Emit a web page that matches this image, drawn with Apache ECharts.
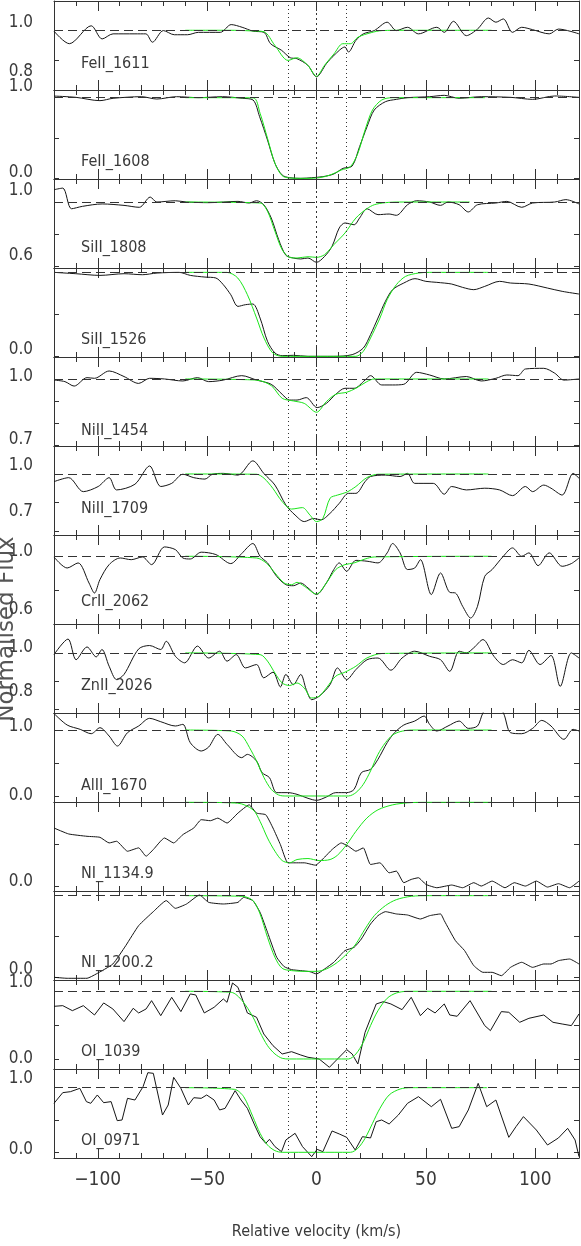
<!DOCTYPE html>
<html>
<head>
<meta charset="utf-8">
<script src="https://cdn.jsdelivr.net/npm/echarts@6/dist/echarts.min.js"></script>
<style>
html, body { margin: 0; padding: 0; background: #fff; }
#chart { width: 581px; height: 1246px; }
</style>
</head>
<body>
<div id="chart"></div>
<script>
// observed spectra [velocity km/s, normalised flux]
const feii1611 = [[-120,0.997],[-113,0.955],[-103,1.015],[-98,0.971],[-93,0.988],[-83,0.988],[-78,0.988],[-75,0.960],[-70,0.999],[-65,0.985],[-59,0.985],[-54,0.993],[-44,0.993],[-39,1.019],[-34,1.010],[-29,0.997],[-24,0.993],[-21,0.955],[-16,0.933],[-12,0.908],[-9,0.905],[-4,0.883],[0,0.844],[4.5,0.888],[8,0.916],[13,0.944],[14.6,0.927],[18,0.966],[21.4,0.988],[26.4,0.999],[32.3,1.027],[36.5,0.999],[41.6,1.010],[46.6,0.988],[55,1.010],[58.4,0.993],[62.6,1.030],[68.5,0.982],[73.6,1.004],[78.6,1.041],[82,1.027],[85.4,1.038],[89.6,0.993],[93.8,1.010],[98.8,1.002],[106.4,0.988],[110.6,1.004],[120,0.988]]
const feii1608 = [[-120,1.02],[-110,1.004],[-99,0.963],[-93,0.992],[-80,1.012],[-73,0.983],[-64,1.012],[-54,1.0],[-43,1.012],[-34,0.992],[-29,0.971],[-26,0.764],[-22.4,0.475],[-19,0.186],[-15.7,0.041],[-12.3,0.008],[-7.2,0],[-2.2,0.008],[2.9,0.021],[7.9,0.054],[12.1,0.124],[16.3,0.153],[19.7,0.393],[23.1,0.64],[26.4,0.847],[31.5,0.95],[36.5,0.979],[41.6,1.0],[51.7,1.012],[58.4,1.029],[65.2,0.992],[75.3,1.012],[88.7,1.004],[98.8,0.979],[108.9,1.021],[120,1.004]]
const siii1808 = [[-120,1.077],[-116,1.087],[-112,0.958],[-107,0.973],[-98,0.988],[-88,0.979],[-81,0.967],[-76,1.031],[-73,1.0],[-64.5,1.008],[-59.4,1.0],[-49.3,0.996],[-35.9,1.004],[-30.8,0.994],[-27.4,1.008],[-24.1,0.983],[-20.7,0.9],[-17.3,0.765],[-14,0.667],[-10.6,0.65],[-7.2,0.644],[-3.9,0.65],[0,0.623],[3.7,0.66],[7.1,0.723],[10.4,0.838],[13,0.869],[17.2,0.858],[19.7,0.9],[23.1,0.958],[28.1,0.921],[33.2,0.925],[36.5,0.917],[41.6,0.983],[45.8,1.008],[51.7,1.0],[56.7,0.979],[60.1,1.0],[65.2,0.983],[69.4,0.938],[73.6,0.983],[82,0.994],[87,1.004],[93.8,0.967],[98.8,0.994],[108.9,1.0],[114,1.015],[120,0.988]]
const siii1526 = [[-120,1.0],[-110,0.984],[-99,0.964],[-88,0.984],[-79.6,0.972],[-72.9,0.992],[-62.8,1.0],[-57.7,0.964],[-51,0.944],[-46,0.933],[-42.6,0.853],[-39.2,0.734],[-35.9,0.595],[-32.5,0.615],[-29.1,0.623],[-25.8,0.456],[-22.4,0.179],[-19,0.04],[-15.7,0.008],[-10.6,0.012],[-3.9,0],[7.9,0],[16.3,0.02],[21.4,0.099],[24.7,0.258],[28.1,0.456],[31.5,0.655],[34.8,0.794],[39.9,0.873],[45,0.925],[50,0.893],[55,0.881],[61.8,0.861],[66.8,0.821],[71.9,0.794],[76.9,0.833],[83.7,0.893],[88.7,0.873],[97.1,0.861],[105.6,0.813],[112.3,0.774],[120,0.742]]
const niii1454 = [[-120,0.995],[-115,0.988],[-110.8,0.968],[-104.9,1.006],[-101.5,1.003],[-94.8,1.036],[-88,1.011],[-81.3,0.98],[-76.3,1.003],[-69.5,1.0],[-61.1,0.991],[-54.4,1.006],[-49.3,0.988],[-42.6,0.995],[-34.2,1.015],[-27.4,0.995],[-20.7,0.976],[-15.7,0.931],[-12.3,0.905],[-8.9,0.905],[-4.7,0.916],[0.3,0.871],[4.5,0.89],[8.8,0.931],[13,0.958],[17.2,0.958],[22.2,0.995],[24.7,1.015],[29.8,0.973],[34.8,0.973],[39.9,0.976],[45.8,1.03],[51.7,1.018],[58.4,1.0],[68.5,1.011],[75.3,0.991],[82,1.003],[87,1.018],[92.1,1.015],[95.5,1.045],[103.9,1.048],[108.9,1.026],[113.1,0.995],[120,1.0]]
const niii1709 = [[-120,0.973],[-113.3,0.987],[-106.6,0.938],[-99.8,0.956],[-94.8,0.987],[-91.4,0.944],[-83,0.964],[-76.3,1.028],[-71.2,0.956],[-66.2,0.967],[-61.1,0.999],[-56.1,0.987],[-51,0.982],[-47.6,0.999],[-42.6,1.002],[-35.9,0.996],[-29.1,1.046],[-24.1,1.002],[-19,0.961],[-14,0.891],[-9.8,0.856],[-5.6,0.833],[-1.3,0.844],[2,0.839],[6.2,0.862],[10.4,0.897],[14.6,0.932],[18,0.932],[22.2,0.973],[24.7,0.991],[31.5,0.996],[38.2,0.991],[41.6,1.002],[44.9,0.967],[53.4,0.967],[58.4,0.929],[61.8,0.956],[68.5,0.944],[76.9,0.95],[83.7,0.944],[89.6,0.924],[95.5,0.956],[98.8,0.938],[103.9,0.961],[107.2,0.95],[112.3,0.926],[117.3,1.002],[120,0.985]]
const crii2062 = [[-120,0.996],[-114,0.931],[-109,0.961],[-104,0.843],[-101.5,0.784],[-99,0.863],[-94.8,0.951],[-89.7,0.99],[-84.7,0.98],[-79.6,0.996],[-75.4,0.951],[-69.5,1.055],[-64.5,1.039],[-61.1,0.99],[-57.7,0.984],[-52.7,1.024],[-46,1.01],[-39.2,0.957],[-34.2,1.016],[-29.1,1.075],[-25.8,1.0],[-22.4,0.961],[-18.2,0.882],[-14,0.833],[-10.6,0.827],[-7.2,0.843],[-3.9,0.814],[0,0.775],[4.5,0.843],[7.9,0.922],[10.4,0.961],[13.8,0.912],[18,0.976],[23.1,0.971],[28.1,0.961],[32.3,1.02],[34.8,1.075],[38.2,1.02],[41.6,0.922],[44.9,0.931],[47.5,0.98],[52.5,0.775],[56.7,0.902],[60.9,0.788],[63.5,0.784],[66.8,0.706],[70.5,0.637],[73.6,0.706],[76.9,0.882],[80.3,0.922],[85.4,1.0],[89.6,1.049],[93.8,1.0],[97.1,1.02],[101.3,0.945],[106.4,1.02],[112.3,0.941],[116.5,0.957],[120,0.99]]
const znii2026 = [[-120,0.994],[-113.6,1.049],[-109.9,0.976],[-104.9,1.021],[-100.7,0.986],[-98.1,1.012],[-94.8,0.953],[-91.4,0.906],[-88,0.924],[-81.3,1.014],[-76.3,1.026],[-71.2,1.012],[-68.7,1.041],[-64.5,0.988],[-60.3,0.965],[-54.4,1.024],[-49.3,0.982],[-44.3,1.006],[-40.9,0.971],[-36.7,0.994],[-32.5,0.947],[-27.4,0.959],[-24.1,0.912],[-19.9,0.932],[-16.5,0.88],[-14,0.924],[-10.6,0.888],[-7.2,0.924],[-4.7,0.871],[-2.2,0.835],[1.2,0.847],[6.2,0.888],[9.6,0.947],[13.8,0.906],[18,0.941],[23.1,0.976],[28.1,0.982],[34,0.939],[39.1,0.982],[44.9,1.006],[51.7,0.988],[56.7,0.976],[60.9,0.935],[65.2,1.006],[68.5,1.0],[71.9,1.018],[76.1,1.047],[81.1,0.988],[85.4,0.959],[89.6,0.976],[93.8,0.965],[97.1,1.009],[102.2,0.959],[107.2,0.991],[111.4,0.882],[116.5,1.0],[120,0.982]]
const alii1670 = [[-120,1.25],[-114,1.076],[-108,1.01],[-103,0.944],[-99,1.035],[-94.8,0.909],[-91,0.758],[-86.4,0.96],[-81.3,1.061],[-76.3,1.177],[-71.2,1.126],[-64.5,1.061],[-61.1,1.086],[-57.7,0.808],[-52.7,0.682],[-49.3,0.742],[-45.1,0.934],[-40.9,0.783],[-34.2,0.581],[-31.6,0.631],[-27.4,0.53],[-24.9,0.354],[-21.5,0.278],[-18.2,0.051],[-13.1,0.051],[-8.9,0.025],[-3.9,-0.035],[0,-0.066],[4.5,-0.015],[8.8,0.051],[13.8,0.051],[17.2,0.101],[20.5,0.354],[24.7,0.404],[28.1,0.556],[32.3,0.808],[35.7,0.96],[39.9,1.076],[44.9,1.136],[49.2,1.212],[51.7,1.086],[55,0.985],[60.1,1.061],[65.2,1.136],[69.4,1.025],[73.6,1.061],[76.1,1.26],[80.5,1.45],[85.4,1.26],[88.7,0.96],[93.8,0.944],[98.8,1.025],[103,1.146],[107.2,1.061],[113.1,0.859],[117.3,1.01],[120,0.985]]
const ni1134 = [[-120,0.692],[-113.3,0.621],[-104.9,0.593],[-99,0.581],[-94.8,0.514],[-91.4,0.534],[-86.4,0.415],[-81.3,0.455],[-77.9,0.356],[-74.6,0.435],[-69.5,0.573],[-65.3,0.514],[-61.1,0.613],[-56.1,0.692],[-52.7,0.791],[-48.5,0.779],[-45.1,0.81],[-40.9,0.751],[-35.9,0.87],[-30.8,0.968],[-27.4,0.87],[-23.2,0.85],[-19.9,0.692],[-16.5,0.494],[-13.1,0.277],[-8.9,0.277],[-5.6,0.277],[-0.5,0.249],[3.7,0.344],[7.1,0.435],[11.3,0.514],[14.6,0.474],[18,0.415],[21.4,0.455],[24.7,0.257],[29,0.277],[33.2,0.158],[36.5,0.178],[39.9,0.04],[43.3,0.079],[46.6,0.099],[50,0.02],[55,-0.02],[61.8,0.012],[66.8,-0.02],[71.9,0.04],[75.3,0],[80.3,0.059],[86.2,-0.02],[90.4,0.04],[95.5,0],[100.5,0.059],[105.6,-0.012],[110.6,0.028],[115.7,-0.02],[120,0.059]]
const ni1200 = [[-120,0],[-114,-0.012],[-104.9,-0.012],[-100.7,0.041],[-93.1,0.163],[-87.2,0.388],[-81.3,0.633],[-74.6,0.804],[-68.7,0.939],[-64.5,0.845],[-59.4,0.898],[-53.5,1.008],[-49.3,0.918],[-42.6,0.898],[-35.9,0.918],[-33.3,0.98],[-29.1,0.939],[-25.8,0.796],[-22.4,0.551],[-18.2,0.245],[-14.8,0.131],[-11.4,0.094],[-7.2,0.082],[-3,0.069],[0,0.041],[3.7,0.102],[7.9,0.184],[13,0.327],[17.2,0.367],[20.5,0.469],[24.7,0.653],[28.1,0.755],[31.5,0.804],[36.5,0.776],[41.6,0.763],[47.5,0.714],[51.7,0.755],[56.7,0.776],[58.4,0.694],[63.5,0.449],[67.7,0.327],[71.9,0.143],[76.1,0.061],[80.3,0.061],[84.5,0.02],[88.7,0.122],[93.8,0.184],[98.8,0.122],[103.9,0.163],[107.2,0.163],[110.6,0.204],[115.7,0.224],[120,0.163]]
const oi1039 = [[-120,0.778],[-116,0.788],[-111.6,0.714],[-106.6,0.788],[-101.5,0.65],[-97.3,0.828],[-93.1,0.739],[-88,0.552],[-83.8,0.749],[-81.3,0.68],[-77.9,0.739],[-75.4,0.862],[-71.2,0.64],[-66.2,0.911],[-62,0.7],[-57.7,0.961],[-55.2,0.946],[-51.3,0.68],[-46.8,0.764],[-42.6,0.887],[-40.9,0.837],[-38.4,1.123],[-35.9,1.059],[-31.6,0.68],[-27.4,0.616],[-24.1,0.369],[-19.9,0.197],[-15.7,0.074],[-11.4,0.108],[-7.2,0.059],[-3.9,0.025],[1.2,0],[5.9,-0.123],[9.6,0],[13.8,0.138],[16.3,0.074],[18.9,-0.074],[22.2,0.394],[27.3,0.813],[30.6,0.847],[34,0.813],[39.1,0.729],[43.3,0.911],[47.5,0.64],[50.8,0.749],[54.2,0.68],[58.4,0.813],[60.9,0.65],[64.3,0.631],[70.2,0.862],[76.9,0.493],[79.5,0.419],[84.5,0.7],[87.9,0.69],[92.9,0.542],[97.1,0.601],[103.9,0.65],[108.1,0.542],[112.3,0.517],[116.5,0.493],[120,0.665]]
const oi0971 = [[-120,0.758],[-116,0.923],[-112.5,0.938],[-108.2,0.99],[-105.2,0.784],[-103.2,0.758],[-100.2,0.887],[-97.3,0.768],[-93.9,0.784],[-91.1,0.49],[-88.9,0.5],[-86.4,0.835],[-83,0.809],[-79.3,1.015],[-77.1,1.232],[-74.6,1.222],[-70.4,0.577],[-67.8,0.732],[-65.3,1.16],[-62,0.99],[-58.6,0.732],[-56.1,0.845],[-52.7,0.835],[-50.2,0.887],[-46.8,0.809],[-44.3,0.655],[-41.8,0.68],[-37.2,0.954],[-34.5,0.809],[-31.6,0.68],[-28.3,0.423],[-25.8,0.242],[-23.2,0.139],[-21.5,0.201],[-19,0.088],[-16,0.01],[-14,0.191],[-9.8,0.294],[-6.4,0.088],[-2.2,-0.067],[0.3,0.046],[2.9,0.01],[7.1,0.33],[10.4,0.284],[13.8,0.232],[17.7,0.036],[21,0.242],[24.7,0.222],[27.3,0.474],[29.8,0.5],[33.2,0.438],[37.4,0.577],[41.6,0.758],[46.6,0.861],[52.5,0.706],[56.7,0.82],[61.8,0.371],[65.2,0.397],[69.4,0.655],[73.9,1.067],[77.8,0.706],[82,0.809],[87.9,0.232],[91.2,0.397],[94.6,0.552],[100.5,0.345],[105.6,0.113],[110.6,0.222],[114.8,0.371],[118.2,0.191],[120,-0.067]]

// fitted profiles
const feii1611Fit = [[-60,1],[-40,1],[-30,0.998],[-24,0.995],[-19,0.949],[-13,0.899],[-9,0.908],[-4,0.883],[0,0.846],[3.7,0.883],[8,0.921],[12,0.955],[15.5,0.955],[19,0.977],[25,0.992],[30,0.999],[40,1],[80,1]]
const feii1608Fit = [[-60,1],[-29,0.998],[-25.8,0.806],[-22.4,0.496],[-19,0.186],[-15.7,0.033],[-12.3,0.004],[-3.9,0],[1.2,0.008],[6.2,0.041],[11.3,0.103],[15.5,0.145],[18.9,0.31],[22.2,0.6],[25.6,0.847],[29.8,0.971],[34.8,1],[77,1]]
const siii1808Fit = [[-60,1],[-25.8,0.994],[-22.4,0.942],[-19,0.817],[-15.7,0.702],[-12.3,0.654],[-8.9,0.65],[-3.9,0.658],[0,0.654],[3.7,0.671],[7.9,0.733],[13,0.806],[18,0.9],[23,0.958],[26.4,0.983],[31.5,0.996],[38,1],[70,1]]
const siii1526Fit = [[-60,1],[-41,1],[-36,0.933],[-31.6,0.734],[-27.4,0.456],[-24,0.218],[-20,0.04],[-15.7,0],[18,0],[21.4,0.06],[24.7,0.218],[29,0.456],[32.3,0.675],[36.5,0.853],[40.7,0.952],[46.6,0.992],[51.7,1],[78.6,1]]
const niii1454Fit = [[-60,1],[-27.4,0.995],[-20.7,0.97],[-15.7,0.913],[-10.6,0.901],[-5.6,0.89],[0,0.85],[4.5,0.898],[8.8,0.931],[13.8,0.94],[18,0.958],[23,0.988],[26.4,1],[78.6,1]]
const niii1709Fit = [[-60,1],[-27.4,0.999],[-24,0.985],[-20,0.95],[-15.7,0.903],[-11.4,0.877],[-6.4,0.882],[-3,0.856],[0,0.833],[2.9,0.844],[6.2,0.915],[9.6,0.926],[13.8,0.936],[18,0.956],[23,0.987],[28.1,0.999],[78.6,1]]
const crii2062Fit = [[-60,1],[-27.4,0.99],[-23,0.961],[-19,0.902],[-14.8,0.843],[-11.4,0.833],[-8.9,0.847],[-5.6,0.824],[0,0.778],[4.5,0.843],[8.8,0.922],[13,0.951],[17.2,0.961],[22.2,0.984],[26.4,0.996],[80,1]]
const znii2026Fit = [[-60,1],[-25.8,0.994],[-22.4,0.971],[-19,0.929],[-15.7,0.894],[-12.3,0.885],[-8.9,0.894],[-5.6,0.876],[-2.2,0.841],[1.2,0.847],[4.5,0.876],[8.8,0.918],[13,0.932],[18,0.953],[23,0.982],[30,0.998],[80,1]]
const alii1670Fit = [[-60,1],[-39,0.985],[-34,0.909],[-30.6,0.732],[-27.4,0.53],[-24,0.278],[-20.7,0.101],[-17.3,0.015],[-14,0],[14.6,0],[18,0.051],[21.4,0.177],[24.7,0.379],[28.1,0.631],[31.5,0.808],[34.8,0.924],[38.2,0.975],[43.3,1],[80,1]]
const ni1134Fit = [[-60,1],[-36,0.988],[-29,0.909],[-25.8,0.771],[-22.4,0.573],[-19,0.415],[-15.7,0.304],[-12.3,0.277],[-8.9,0.316],[-3.9,0.328],[1.2,0.304],[6.2,0.316],[9.6,0.368],[13.8,0.494],[18,0.652],[23,0.81],[28.1,0.909],[34.8,0.968],[41.6,0.992],[50,1],[80,1]]
const ni1200Fit = [[-60,1],[-34,0.992],[-29,0.939],[-25.8,0.776],[-22.4,0.49],[-19,0.245],[-15.7,0.11],[-11.4,0.082],[-5.6,0.073],[0,0.073],[4.5,0.102],[9.6,0.184],[14.6,0.306],[18,0.408],[22.2,0.592],[26.4,0.755],[31.5,0.878],[36.5,0.951],[43.3,0.992],[51.7,1],[80,1]]
const oi1039Fit = [[-60,1],[-39,0.985],[-34,0.862],[-29,0.616],[-25.8,0.394],[-22.4,0.197],[-19,0.074],[-15.7,0.01],[-12.3,0],[14.6,0],[18,0.074],[21.4,0.246],[24.7,0.493],[28.1,0.714],[32.3,0.897],[36.5,0.975],[41.6,1],[80,1]]
const oi0971Fit = [[-60,1],[-37.5,0.974],[-33.3,0.861],[-29.1,0.552],[-25.8,0.294],[-22.4,0.113],[-19,0.026],[-15.7,0],[15.5,0],[18.9,0.062],[22.2,0.216],[25.6,0.448],[29,0.68],[33.2,0.887],[38.2,0.979],[43.3,1],[78,1]]

// component velocities (dotted lines) and axis ticks
const compVel = [-12.7, 0, 13.7]
const xMajor = [-100, -50, 0, 50, 100]
const xMinor = [-110, -100, -90, -80, -70, -60, -50, -40, -30, -20, -10, 0, 10, 20, 30, 40, 50, 60, 70, 80, 90, 100, 110]
const yLabelText = ['1.0', '0.8', '1.0', '0.0', '1.0', '0.6', '0.0', '1.0', '0.7', '1.0', '0.7', '1.0', '0.6', '1.0', '0.8', '1.0', '0.0', '0.0', '0.0', '1.0', '0.0', '1.0', '0.0']
const yLabelY = [23, 72, 87, 173, 191, 256, 350, 377, 440, 466, 512, 552, 610, 648, 692, 727, 796, 882, 970, 983, 1059, 1079, 1150]

const panels = [
  { name: 'FeII_1611', data: feii1611, fit: feii1611Fit, min: 0.8, max: 1.098, ticks: [0.8, 0.9, 1.0], nameY: 64, smooth: 0.3 },
  { name: 'FeII_1608', data: feii1608, fit: feii1608Fit, min: -0.008, max: 1.095, ticks: [0, 0.5, 1], nameY: 73, smooth: 0.3 },
  { name: 'SiII_1808', data: siii1808, fit: siii1808Fit, min: 0.5875, max: 1.144, ticks: [0.6, 0.8, 1.0], nameY: 70, smooth: 0.3 },
  { name: 'SiII_1526', data: siii1526, fit: siii1526Fit, min: -0.008, max: 1.052, ticks: [0, 0.5, 1], nameY: 73, smooth: 0.3 },
  { name: 'NiII_1454', data: niii1454, fit: niii1454Fit, min: 0.698, max: 1.099, ticks: [0.7, 0.8, 0.9, 1.0], nameY: 75, smooth: 0.3 },
  { name: 'NiII_1709', data: niii1709, fit: niii1709Fit, min: 0.786, max: 1.098, ticks: [0.8, 0.9, 1.0], nameY: 64, smooth: 0.3 },
  { name: 'CrII_2062', data: crii2062, fit: crii2062Fit, min: 0.602, max: 1.125, ticks: [0.8, 1.0], nameY: 68, smooth: 0.3 },
  { name: 'ZnII_2026', data: znii2026, fit: znii2026Fit, min: 0.788, max: 1.102, ticks: [0.8, 0.9, 1.0], nameY: 63, smooth: 0.3 },
  { name: 'AlII_1670', data: alii1670, fit: alii1670Fit, min: -0.091, max: 1.258, ticks: [0, 0.5, 1], nameY: 74, smooth: 0.3 },
  { name: 'NI_1134.9', data: ni1134, fit: ni1134Fit, min: -0.059, max: 1.002, ticks: [0, 0.5, 1], nameY: 73, smooth: 0.15 },
  { name: 'NI_1200.2', data: ni1200, fit: ni1200Fit, min: -0.033, max: 1.057, ticks: [0, 0.5, 1], nameY: 73, smooth: 0.15 },
  { name: 'OI_1039', data: oi1039, fit: oi1039Fit, min: -0.148, max: 1.167, ticks: [0, 0.5, 1], nameY: 73, smooth: 0 },
  { name: 'OI_0971', data: oi0971, fit: oi0971Fit, min: -0.088, max: 1.289, ticks: [0, 0.5, 1], nameY: 73, smooth: 0 }
]

const TOP = 1
const H = 89
const LEFT = 54
const RIGHT = 2
const FONT = '"DejaVu Sans Condensed", "DejaVu Sans", sans-serif'
const TEXT = '#3a3a3a'
const FRAME = '#333'

const grid = []
const xAxis = []
const yAxis = []
const series = []
const title = []

function xAx(i, pos, vals, len, line, last) {
  return {
    gridIndex: i, type: 'value', min: -120, max: 120, position: pos,
    axisLine: { show: line, onZero: false, lineStyle: { color: FRAME, width: 1 } },
    axisTick: { show: true, inside: true, length: len, customValues: vals, lineStyle: { color: FRAME } },
    axisLabel: last ? {
      show: true, customValues: xMajor, margin: 13, fontFamily: FONT, fontSize: 19, color: TEXT,
      formatter: v => (v < 0 ? '\u2212' + (-v) : String(v))
    } : { show: false },
    name: last ? 'Relative velocity (km/s)' : '',
    nameLocation: 'middle', nameGap: 66, nameMoveOverlap: false,
    nameTextStyle: { fontFamily: FONT, fontSize: 16, color: TEXT },
    splitLine: { show: false }
  }
}

function yAx(i, p, pos) {
  return {
    gridIndex: i, type: 'value', min: p.min, max: p.max, position: pos,
    axisLine: { show: true, onZero: false, lineStyle: { color: FRAME, width: 1 } },
    axisTick: { show: true, inside: true, length: 5, customValues: p.ticks, lineStyle: { color: FRAME } },
    axisLabel: { show: false },
    splitLine: { show: false }
  }
}

panels.forEach((p, i) => {
  const last = i === panels.length - 1
  grid.push({ left: LEFT, right: RIGHT, top: TOP + H * i, height: H, containLabel: false, outerBoundsMode: 'none' })
  xAxis.push(xAx(i, 'bottom', xMinor, 5, true, last))
  xAxis.push(xAx(i, 'top', xMinor, 5, true, false))
  xAxis.push(xAx(i, 'bottom', xMajor, 10, false, false))
  xAxis.push(xAx(i, 'top', xMajor, 10, false, false))
  yAxis.push(yAx(i, p, 'left'))
  yAxis.push(yAx(i, p, 'right'))
  series.push({
    type: 'line', name: p.name, data: p.data, xAxisIndex: 4 * i, yAxisIndex: 2 * i,
    symbol: 'none', smooth: p.smooth, clip: true, z: 3,
    lineStyle: { color: '#151515', width: 1 },
    markLine: {
      silent: true, symbol: ['none', 'none'], label: { show: false }, animation: false,
      data: [{ yAxis: 1, lineStyle: { type: [9, 5], color: '#333', width: 1 } }].concat(
        compVel.map(v => ({ xAxis: v, lineStyle: { type: v === 0 ? [2, 3] : [1, 3], color: '#333', width: 1 } })))
    }
  })
  series.push({
    type: 'line', name: p.name + ' fit', data: p.fit, xAxisIndex: 4 * i, yAxisIndex: 2 * i,
    symbol: 'none', smooth: 0.3, clip: true, z: 4,
    lineStyle: { color: '#19e619', width: 1 }
  })
  title.push({
    text: p.name, left: 81, top: TOP + H * i + p.nameY - 9, padding: 0,
    textStyle: { fontFamily: FONT, fontSize: 16, fontWeight: 'normal', color: TEXT }
  })
})

// label layer: y axis in pixel units for the per-panel tick labels
const gi = panels.length
grid.push({ left: LEFT, right: RIGHT, top: 0, height: 1160, containLabel: false, outerBoundsMode: 'none' })
xAxis.push({ gridIndex: gi, type: 'value', min: 0, max: 1, show: false })
yAxis.push({
  gridIndex: gi, type: 'value', min: 0, max: 1160, inverse: true, position: 'left',
  axisLine: { show: false }, axisTick: { show: false }, splitLine: { show: false },
  axisLabel: {
    show: true, customValues: yLabelY, hideOverlap: false, margin: 21,
    fontFamily: FONT, fontSize: 17, color: TEXT,
    formatter: v => yLabelText[yLabelY.indexOf(v)]
  }
})

// shared y title, centred on the middle of the panel stack
grid.push({ left: LEFT, right: RIGHT, top: 429, height: 400, containLabel: false, outerBoundsMode: 'none' })
xAxis.push({ gridIndex: gi + 1, type: 'value', min: 0, max: 1, show: false })
yAxis.push({
  gridIndex: gi + 1, type: 'value', min: 0, max: 1, position: 'left',
  axisLine: { show: false }, axisTick: { show: false }, axisLabel: { show: false }, splitLine: { show: false },
  name: 'Normalised Flux', nameLocation: 'middle', nameRotate: 90, nameGap: 35, nameMoveOverlap: false,
  nameTextStyle: { fontFamily: '"DejaVu Sans", sans-serif', fontSize: 23, color: '#555' }
})

const chart = echarts.init(document.getElementById('chart'))
chart.setOption({
  animation: false,
  backgroundColor: '#fff',
  title: title,
  grid: grid,
  xAxis: xAxis,
  yAxis: yAxis,
  series: series
})
window.addEventListener('resize', () => {
  chart.resize()
})
</script>
</body>
</html>
